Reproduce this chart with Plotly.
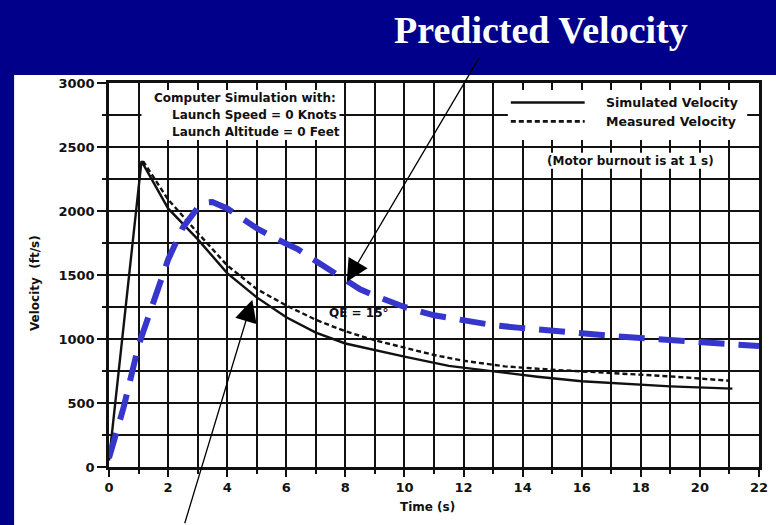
import plotly.graph_objects as go

# ---- data ----
SIM_T = [0, 1.1, 2.0, 3.0, 4.0, 5.0, 6.0, 7.0, 8.0, 9.0, 10.0, 11.5, 13.0, 14.5, 16.0, 17.5, 19.0, 21.1]
SIM_V = [50, 2390, 2020, 1780, 1515, 1325, 1170, 1050, 965, 912, 862, 790, 746, 705, 670, 648, 630, 612]

MEAS_T = [1.15, 2.0, 3.0, 4.0, 5.0, 6.0, 7.0, 8.0, 9.0, 10.0, 11.0, 12.0, 13.4, 15.0, 16.0, 17.5, 19.0, 21.0]
MEAS_V = [2390, 2090, 1830, 1575, 1390, 1262, 1150, 1060, 990, 930, 875, 830, 786, 760, 747, 728, 708, 674]

PRED_T = [0, 0.5, 1.0, 1.5, 2.0, 2.5, 3.0, 3.25, 3.5, 4.0, 4.5, 5.0, 5.7, 6.4, 7.0, 7.5, 8.0, 8.5, 9.0, 9.5,
          10.0, 11.0, 12.0, 13.0, 14.0, 15.0, 16.0, 17.0, 18.0, 19.0, 20.0, 21.0, 22.0]
PRED_V = [70, 470, 950, 1300, 1620, 1870, 2025, 2065, 2070, 2020, 1945, 1865, 1778, 1700, 1610, 1535, 1450,
          1388, 1338, 1290, 1250, 1185, 1142, 1108, 1085, 1062, 1043, 1024, 1007, 990, 979, 961, 945]

X_TICKS = list(range(0, 23, 2))
Y_TICKS = list(range(0, 3001, 500))

NAVY = "#00008B"
BLUE = "#3636CC"
INK = "#111111"
FONT = "DejaVu Sans"

fig = go.Figure()
fig.add_trace(go.Scatter(x=SIM_T, y=SIM_V, mode="lines", name="Simulated Velocity",
                         line=dict(color=INK, width=2.4), showlegend=False))
fig.add_trace(go.Scatter(x=MEAS_T, y=MEAS_V, mode="lines", name="Measured Velocity",
                         line=dict(color=INK, width=2.4, dash="5px,3px"), showlegend=False))
fig.add_trace(go.Scatter(x=PRED_T, y=PRED_V, mode="lines", name="Predicted Velocity",
                         line=dict(color=BLUE, width=6, dash="26px,14px"),
                         showlegend=False))

GW = 2.4
fig.update_xaxes(range=[0, 22], tickvals=X_TICKS, ticks="outside", ticklen=7, tickwidth=2, tickcolor=INK,
                 showgrid=True, gridcolor=INK, gridwidth=GW, zeroline=False, showline=True,
                 linecolor=INK, linewidth=2.6, mirror=True,
                 tickfont=dict(family=FONT, size=13, color=INK, weight="bold"),
                 minor=dict(dtick=1, showgrid=True, gridcolor=INK, gridwidth=GW, ticks="outside",
                            ticklen=4, tickwidth=2, tickcolor=INK))
fig.update_yaxes(range=[0, 3000], tickvals=Y_TICKS, ticks="outside", ticklen=9, tickwidth=2, tickcolor=INK,
                 showgrid=True, gridcolor=INK, gridwidth=GW, zeroline=False, showline=True,
                 linecolor=INK, linewidth=2.6, mirror=True,
                 tickfont=dict(family=FONT, size=13, color=INK, weight="bold"),
                 minor=dict(dtick=250, showgrid=True, gridcolor=INK, gridwidth=GW, ticks="outside",
                            ticklen=4, tickwidth=2, tickcolor=INK))

shapes = [
    dict(type="rect", xref="paper", yref="paper", x0=-0.146, x1=1.05, y0=-0.3, y1=1.0208,
         fillcolor="white", line=dict(width=0), layer="below"),
    dict(type="rect", xref="x", yref="y", x0=1.1, x1=7.8, y0=2555, y1=2945,
         fillcolor="white", line=dict(width=0), layer="above"),
    dict(type="rect", xref="x", yref="y", x0=13.5, x1=21.6, y0=2555, y1=2945,
         fillcolor="white", line=dict(width=0), layer="above"),
    dict(type="rect", xref="x", yref="y", x0=14.6, x1=20.6, y0=2330, y1=2455,
         fillcolor="white", line=dict(width=0), layer="above"),
    dict(type="line", xref="x", yref="y", x0=13.6, x1=16.1, y0=2848, y1=2848,
         line=dict(color=INK, width=2.6), layer="above"),
    dict(type="line", xref="x", yref="y", x0=13.6, x1=16.1, y0=2700, y1=2700,
         line=dict(color=INK, width=2.6, dash="5px,3px"), layer="above"),
]

txt = dict(family=FONT, size=12, color=INK, weight="bold")
leg = dict(family=FONT, size=12.5, color=INK, weight="bold")
annotations = [
    dict(text="Predicted Velocity", xref="paper", yref="paper", x=0.664, y=1.1388,
         xanchor="center", yanchor="middle", showarrow=False,
         font=dict(family="Liberation Serif", size=38, color="white", weight="bold")),
    dict(text="Computer Simulation with:", x=1.45, y=2885, xanchor="left", yanchor="middle",
         showarrow=False, font=txt),
    dict(text="Launch Speed = 0 Knots", x=2.05, y=2752, xanchor="left", yanchor="middle",
         showarrow=False, font=txt),
    dict(text="Launch Altitude = 0 Feet", x=2.05, y=2619, xanchor="left", yanchor="middle",
         showarrow=False, font=txt),
    dict(text="Simulated Velocity", x=16.75, y=2848, xanchor="left", yanchor="middle",
         showarrow=False, font=leg),
    dict(text="Measured Velocity", x=16.75, y=2700, xanchor="left", yanchor="middle",
         showarrow=False, font=leg),
    dict(text="(Motor burnout is at 1 s)", x=17.65, y=2387, xanchor="center", yanchor="middle",
         showarrow=False, font=txt),
    dict(text="QE = 15°", x=8.45, y=1205, xanchor="center", yanchor="middle",
         showarrow=False, font=txt),
    dict(text="", x=8.05, y=1448, ax=133, ay=-225, showarrow=True, arrowhead=2,
         arrowsize=3.4, arrowwidth=1.3, arrowcolor="black", standoff=0),
    dict(text="", x=4.85, y=1307, ax=-68, ay=225, showarrow=True, arrowhead=2,
         arrowsize=3.4, arrowwidth=1.3, arrowcolor="black", standoff=0),
    dict(text="Velocity  (ft/s)", xref="paper", yref="paper", x=-0.1148, y=0.48,
         xanchor="center", yanchor="middle", textangle=-90, showarrow=False, font=txt),
    dict(text="Time (s)", xref="paper", yref="paper", x=0.49, y=-0.104,
         xanchor="center", yanchor="middle", showarrow=False, font=txt),
]

fig.update_layout(width=776, height=525, autosize=False,
                  margin=dict(l=109, r=8, t=83, b=58),
                  paper_bgcolor=NAVY, plot_bgcolor="white",
                  shapes=shapes, annotations=annotations, showlegend=False)

fig.write_html("out.html")
